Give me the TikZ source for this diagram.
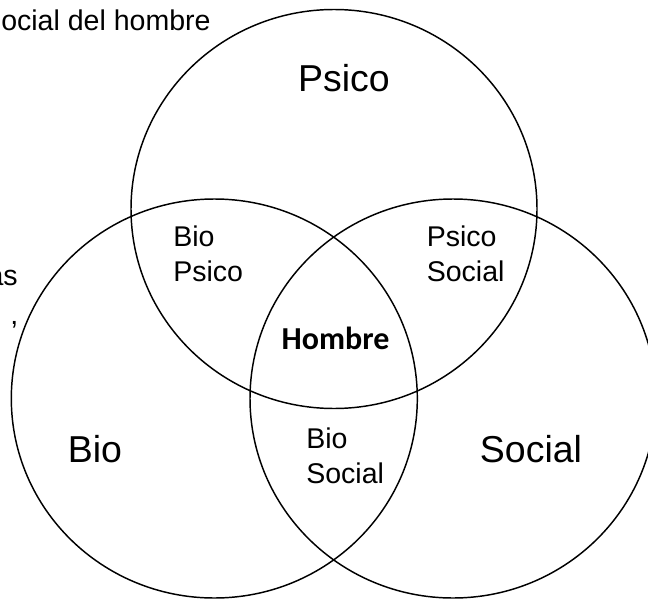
\documentclass[tikz,border=0pt]{standalone}
\usepackage{fontspec}
\setmainfont{Liberation Sans}
\newfontfamily\hombrefont{Carlito}
\usetikzlibrary{shapes.geometric}

\begin{document}
\begin{tikzpicture}[x=0.75pt, y=-0.75pt,
		set/.style={draw, line width=1.1pt, ellipse, minimum width=304.5pt, minimum height=299.25pt},
		big/.style={font=\fontsize{28.1}{30}\selectfont, inner sep=0pt, anchor=base},
		small/.style={font=\fontsize{21.4}{26.25}\selectfont, inner sep=0pt, align=left, anchor=base west}]
			%%%%% START %%%%%
			
			\useasboundingbox (0, 0) rectangle (648, 599);
			
			\node[set] (psico) at (334, 209) {};
			\node[set] (bio) at (214.3, 398.5) {};
			\node[set] (social) at (453, 398.5) {};
			
			\node[big] (lpsico) at (344, 91.7) {Psico};
			\node[big] (lbio) at (95, 462) {Bio};
			\node[big] (lsocial) at (531, 462) {Social};
			
			% base = linea de abajo
			\node[small] (biopsico) at (173, 281) {Bio\\Psico};
			\node[small] (psicosocial) at (426.5, 281) {Psico\\Social};
			\node[small] (biosocial) at (306, 483) {Bio\\Social};
			
			\node[inner sep=0pt, anchor=base, font=\hombrefont\bfseries\fontsize{24}{28}\selectfont] (hombre) at (335.5, 349.5) {Hombre};
			
			% texto cortado a la izquierda
			\node[small] (titulo) at (1, 30.5) {ocial del hombre};
			\node[small, anchor=base east] (as) at (18, 285) {as};
			\node[small, anchor=base east] (coma) at (18.5, 324) {,};
			
			%%%%% END %%%%%
		\end{tikzpicture}
\end{document}
